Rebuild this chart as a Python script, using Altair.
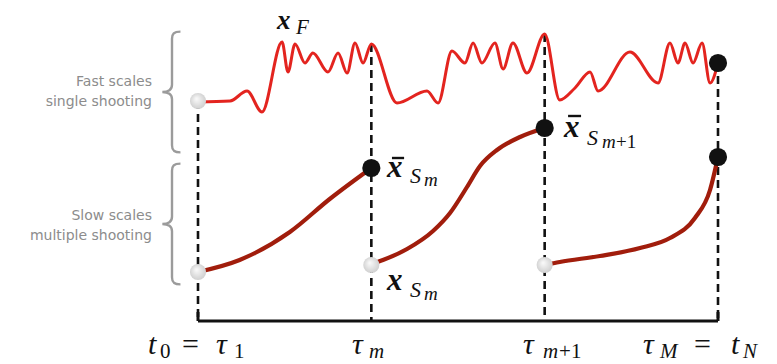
import altair as alt
import pandas as pd

# ---------------- data ----------------
# time axis: tau_1 .. tau_M at 0,1,2,3 ; heights measured above the time axis
tau_t = [0, 1, 2, 3]
dash_top = [220, 277, 287, 258]

fast_t = [0.00, 0.185, 0.283, 0.369, 0.485, 0.519, 0.560, 0.617, 0.663, 0.750,
          0.808, 0.860, 0.906, 0.952, 1.000, 1.148, 1.321, 1.385, 1.465, 1.540,
          1.587, 1.638, 1.713, 1.760, 1.817, 1.898, 2.000, 2.087, 2.175, 2.262,
          2.308, 2.492, 2.654, 2.723, 2.769, 2.810, 2.856, 2.908, 2.954, 3.000]
fast_h = [219, 220, 230, 209, 279, 249, 277, 258, 268, 249,
          268, 248, 278, 258, 277, 218, 230, 218, 270, 258,
          278, 258, 278, 252, 278, 248, 287, 221, 233, 249,
          230, 269, 238, 278, 258, 278, 258, 278, 238, 258]

slow1_t = [0.00, 0.24, 0.53, 0.76, 1.00]
slow1_h = [49, 61, 89, 122, 153]
slow2_t = [1.00, 1.067, 1.206, 1.356, 1.454, 1.552, 1.627, 1.725, 1.858, 2.00]
slow2_h = [57, 61, 72, 90, 108, 134, 155, 171, 184, 193]
slow3_t = [2.00, 2.087, 2.319, 2.550, 2.723, 2.867, 2.954, 3.00]
slow3_h = [56, 59, 65, 73, 83, 103, 131, 164]

gray_t = [0, 0, 1, 2]
gray_h = [220, 49, 56, 56]
black_t = [1, 2, 3, 3]
black_h = [153, 193, 164, 258]

side_text = ["Fast scales", "single shooting", "Slow scales", "multiple shooting"]
side_h = [235, 215, 101, 81]
brace_h = [229, 97]

# math labels: pieces (text, t, h, size)
ital = [("t", -0.288, -33, 30), ("τ", 0.104, -33, 30), ("τ", 0.888, -33, 30),
        ("m", 0.987, -37, 21), ("τ", 1.875, -33, 30), ("m", 1.990, -37, 21),
        ("τ", 2.567, -33, 30), ("M", 2.665, -37, 21), ("t", 3.075, -33, 30),
        ("N", 3.144, -37, 21),
        ("F", 0.565, 287, 21), ("S", 1.223, 138, 22), ("m", 1.304, 135, 19),
        ("S", 2.244, 176, 22), ("m", 2.331, 173, 19),
        ("S", 1.223, 24, 22), ("m", 1.304, 21, 19)]
upright = [("0", -0.219, -37, 21), ("=", -0.092, -33, 30), ("1", 0.208, -37, 21),
           ("+1", 2.083, -37, 21), ("=", 2.862, -33, 30), ("+1", 2.412, 173, 19)]
boldx = [("x", 0.456, 292, 27), ("x", 1.090, 144, 31), ("x", 2.112, 184, 31),
         ("x", 1.090, 31, 31)]
bar_t = [1.119, 2.135]
bar_t2 = [1.189, 2.210]
bar_h = [163, 205]

SERIF = "Liberation Serif"

# ---------------- scales ----------------
xs = alt.Scale(domain=[-1.09615, 3.29423], nice=False, zero=False)
ys = alt.Scale(domain=[-35, 313], nice=False, zero=False)
X = lambda f: alt.X(f, type="quantitative", scale=xs, axis=None)
Y = lambda f: alt.Y(f, type="quantitative", scale=ys, axis=None)

fast_df = pd.DataFrame({"t": fast_t, "h": fast_h})
slow_df = pd.concat([
    pd.DataFrame({"t": slow1_t, "h": slow1_h, "seg": 1}),
    pd.DataFrame({"t": slow2_t, "h": slow2_h, "seg": 2}),
    pd.DataFrame({"t": slow3_t, "h": slow3_h, "seg": 3}),
])
dash_df = pd.DataFrame({"t": tau_t, "top": dash_top, "bot": [0] * 4})
axis_df = pd.DataFrame({"t": [0], "t2": [3], "h": [0]})
cap_df = pd.DataFrame({"t": [0, 3], "h": [0, 0], "h2": [9, 9]})
gray_df = pd.DataFrame({"t": gray_t, "h": gray_h})
black_df = pd.DataFrame({"t": black_t, "h": black_h})
side_df = pd.DataFrame({"text": side_text, "t": [-0.2654] * 4, "h": side_h})
brace_df = pd.DataFrame({"t": [-0.15, -0.15], "h": brace_h})
bar_df = pd.DataFrame({"t": bar_t, "t2": bar_t2, "h": bar_h})


def pieces(lst):
    return pd.DataFrame(lst, columns=["text", "t", "h", "size"])


dashes = alt.Chart(dash_df).mark_rule(color="#111", strokeWidth=2.6, strokeDash=[8, 5]).encode(
    x=X("t"), y=Y("top"), y2="bot")
axis_line = alt.Chart(axis_df).mark_rule(color="#111", strokeWidth=3.2).encode(
    x=X("t"), x2="t2", y=Y("h"))
caps = alt.Chart(cap_df).mark_rule(color="#111", strokeWidth=3).encode(
    x=X("t"), y=Y("h"), y2="h2")
fast = alt.Chart(fast_df).mark_line(color="#e3241f", strokeWidth=3, interpolate="monotone").encode(
    x=X("t"), y=Y("h"))
slow = alt.Chart(slow_df).mark_line(color="#a11d0c", strokeWidth=4.2, interpolate="monotone").encode(
    x=X("t"), y=Y("h"), detail="seg:N")

grad = alt.Gradient(gradient="radial",
                    stops=[alt.GradientStop(color="#fbfbfb", offset=0),
                           alt.GradientStop(color="#c9c9c9", offset=1)],
                    x1=0.4, y1=0.35, r1=0, x2=0.5, y2=0.5, r2=0.6)
gray_dots = alt.Chart(gray_df).mark_circle(size=260, opacity=1, fill=grad).encode(
    x=X("t"), y=Y("h"))
black_dots = alt.Chart(black_df).mark_circle(size=330, opacity=1, color="#111").encode(
    x=X("t"), y=Y("h"))

brace_path = ("M0.14,-1 C0.03,-1 0,-0.96 0,-0.88 L0,-0.12 C0,-0.04 -0.06,0 -0.16,0 "
              "C-0.06,0 0,0.04 0,0.12 L0,0.88 C0,0.96 0.03,1 0.14,1")
braces = alt.Chart(brace_df).mark_point(shape=brace_path, size=14600, filled=False,
                                        stroke="#9b9b9b", strokeWidth=2.4, opacity=1).encode(
    x=X("t"), y=Y("h"))

side = alt.Chart(side_df).mark_text(align="right", baseline="alphabetic", font="DejaVu Sans",
                                    fontSize=14, color="#8c8c8c").encode(
    x=X("t"), y=Y("h"), text="text:N")


def text_layer(df, **kw):
    return alt.Chart(df).mark_text(align="left", baseline="alphabetic", color="#111",
                                   font=SERIF, **kw).encode(
        x=X("t"), y=Y("h"), text="text:N", size=alt.Size("size:Q", scale=None))


t_ital = text_layer(pieces(ital), fontStyle="italic")
t_up = text_layer(pieces(upright))
t_bold = text_layer(pieces(boldx), fontStyle="italic", fontWeight="bold")
bars = alt.Chart(bar_df).mark_rule(color="#111", strokeWidth=2.4).encode(
    x=X("t"), x2="t2", y=Y("h"))

chart = alt.layer(dashes, axis_line, caps, fast, slow, gray_dots, black_dots, braces, side,
                  t_ital, t_up, t_bold, bars).properties(
    width=761, height=348,
    autosize=alt.AutoSizeParams(type="none"),
    padding={"left": 0, "top": 0, "right": 0, "bottom": 8},
    background="white",
).configure_view(stroke=None)

chart.save("out.html", embed_options={"renderer": "svg", "actions": False})
